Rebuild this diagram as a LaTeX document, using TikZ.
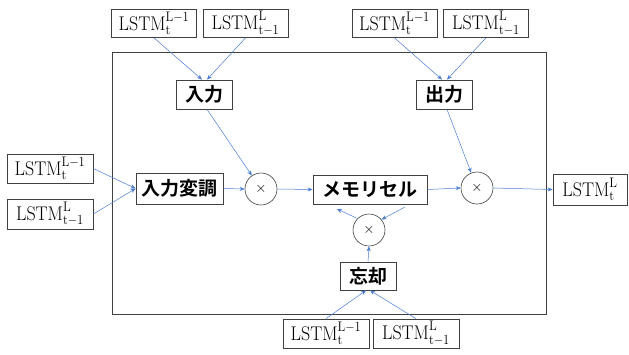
\documentclass[tikz,border=0pt]{standalone}
\usepackage{fontspec}
\newfontfamily\cjk{Noto Sans CJK JP}[BoldFont={Noto Sans CJK JP Bold}]
\usetikzlibrary{arrows.meta,calc}
\definecolor{arrblue}{HTML}{4A7BD0}
\definecolor{boxgray}{HTML}{404040}
\tikzset{
  lstm/.style={draw=boxgray,line width=0.8pt,inner sep=0pt,minimum width=85pt,minimum height=28pt,font=\fontsize{18}{19}\selectfont},
  jp/.style={draw=boxgray,line width=0.8pt,inner sep=0pt,minimum height=29pt,font=\fontsize{19}{20}\selectfont\cjk\bfseries},
  mul/.style={circle,draw=boxgray,line width=0.6pt,minimum size=32pt,inner sep=0pt,font=\fontsize{15}{15}\selectfont},
  arr/.style={draw=arrblue,line width=0.5pt,-{Stealth[length=5pt,width=4pt]}},
}
\newcommand{\Lup}{\scalebox{1}[1.1]{$\mathrm{LSTM}_{\mathrm{t}}^{\mathrm{L-1}}$}}
\newcommand{\Lprev}{\scalebox{1}[1.1]{$\mathrm{LSTM}_{\mathrm{t-1}}^{\mathrm{L}}$}}
\newcommand{\Lout}{\scalebox{1}[1.1]{$\mathrm{LSTM}_{\mathrm{t}}^{\mathrm{L}}$}}
\begin{document}
\begin{tikzpicture}[x=1pt,y=-1pt]
\useasboundingbox (0,0) rectangle (629,354);
\draw[boxgray,line width=0.8pt] (112,52) rectangle (546,314);
\node[lstm] (tl1) at (154,23.5) {\Lup};
\node[lstm] (tl2) at (245.5,23.5) {\Lprev};
\node[lstm] (tr1) at (394.5,23.5) {\Lup};
\node[lstm] (tr2) at (486,23.5) {\Lprev};
\node[lstm,minimum height=29pt,minimum width=86pt] (l1) at (50,168.5) {\Lup};
\node[lstm,minimum height=30pt,minimum width=86pt] (l2) at (50,214) {\Lprev};
\node[lstm,minimum height=29pt,minimum width=86pt] (b1) at (326,333.5) {\Lup};
\node[lstm,minimum height=29pt,minimum width=86pt] (b2) at (416,333.5) {\Lprev};
\node[lstm,minimum height=31pt,minimum width=74pt] (lo) at (590,189.5) {\Lout};
\node[jp,minimum width=56pt] (in) at (204,94.5) {入力};
\node[jp,minimum width=56pt] (out) at (444,94.5) {出力};
\node[jp,minimum width=87pt,minimum height=31pt] (mod) at (179.5,188.5) {入力変調};
\node[jp,minimum width=114pt] (mem) at (370,189.5) {メモリセル};
\node[jp,minimum width=56pt,minimum height=28pt] (fg) at (368,276) {忘却};
\node[mul] (c1) at (261,189) {$\times$};
\node[mul] (c2) at (477,188) {$\times$};
\node[mul] (cf) at (369,230) {$\times$};
\coordinate (m1) at (337,209);
\coordinate (m2) at (405,207);
\draw[arr] (tl1.south) -- ([xshift=-2pt]in.north);
\draw[arr] (tl2.south) -- ([xshift=3pt]in.north);
\draw[arr] (tr1.south) -- ([xshift=-2pt]out.north);
\draw[arr] (tr2.south) -- ([xshift=3pt]out.north);
\draw[arr] ([xshift=3pt]in.south) -- (c1);
\draw[arr] ([xshift=3pt]out.south) -- (c2);
\draw[arr] (l1.east) -- (mod.west);
\draw[arr] (l2.east) -- (mod.west);
\draw[arr] (mod.east) -- (c1.west);
\draw[arr] (c1.east) -- (mem.west);
\draw[arr] (mem.east) -- (c2.west);
\draw[arr] (c2.east) -- (lo.west);
\draw[arr] (fg.north) -- (cf.south);
\draw[arr] (cf.135) -- (m1);
\draw[arr] (m2) -- (cf.40);
\draw[arr] (b1.north) -- ([xshift=-2pt]fg.south);
\draw[arr] (b2.north) -- ([xshift=2pt]fg.south);
\end{tikzpicture}
\end{document}
